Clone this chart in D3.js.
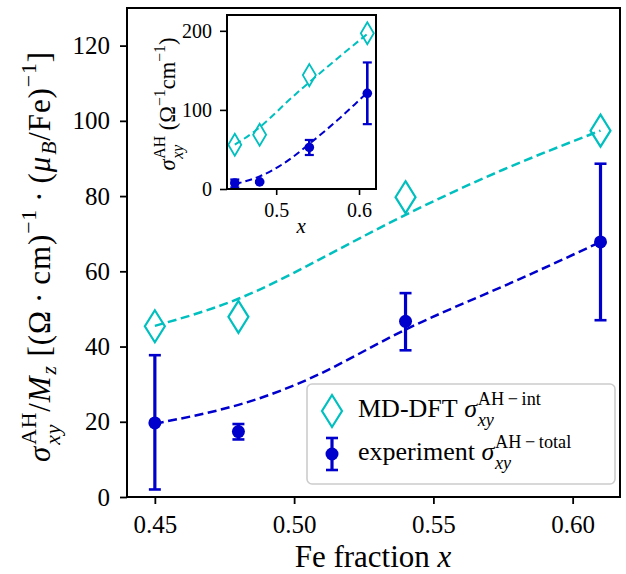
<!DOCTYPE html>
<html lang="en">
<head>
<meta charset="utf-8">
<script src="https://cdn.jsdelivr.net/npm/d3@7"></script>
<style>
  body { margin: 0; background: #fff; }
</style>
</head>
<body>
<svg width="626" height="574"></svg>
<script>
// ---- data ----
var fracX = [0.45, 0.48, 0.54, 0.61];

// main panel: sigma_xy / M_z
var dftNorm = [45.4, 47.9, 79.7, 97.4];
var expNorm = [19.7, 17.4, 46.7, 67.8];
var expNormLo = [2.0, 15.3, 39.0, 47.0];
var expNormHi = [37.7, 19.4, 54.2, 88.6];

// inset: sigma_xy (S/cm)
var dftRaw = [56, 68.5, 144, 197];
var expRaw = [7.6, 9, 52.5, 121];
var expRawLo = [2, 8, 43, 82];
var expRawHi = [12, 10, 62, 160];

// dashed fit curves
var fitX = [0.45, 0.48, 0.51, 0.54, 0.575, 0.61];
var dftFitNorm = [45.5, 52.7, 63.5, 75.0, 87.0, 97.4];
var expFitNorm = [19.5, 24.5, 33.0, 44.5, 56.0, 67.8];
var dftFitRaw = [56, 78, 107, 135, 166, 196];
var expFitRaw = [6, 16, 33, 57, 88, 122];

var mainXTicks = [0.45, 0.50, 0.55, 0.60];
var mainYTicks = [0, 20, 40, 60, 80, 100, 120];
var insetXTicks = [0.5, 0.6];
var insetYTicks = [0, 100, 200];

var cyan = "#00bfbf", blue = "#0000cd";

// pick the first serif face that is really installed
var ctx = document.createElement("canvas").getContext("2d");
function hasFont(name) {
    var probe = "mmmmllliiiWWQ0123.45";
    ctx.font = "40px monospace";
    var a = ctx.measureText(probe).width;
    ctx.font = "40px '" + name + "', monospace";
    var b = ctx.measureText(probe).width;
    ctx.font = "40px sans-serif";
    var c = ctx.measureText(probe).width;
    ctx.font = "40px '" + name + "', sans-serif";
    var d = ctx.measureText(probe).width;
    return a !== b || c !== d;
}
var serifName = ["Liberation Serif", "Tinos", "Times New Roman", "DejaVu Serif", "Noto Serif", "FreeSerif"]
    .filter(hasFont)[0];
var serif = serifName ? "'" + serifName + "', serif" : "serif";
// DejaVu Serif runs wide, shrink a bit to keep the widths
var fs = serifName === "DejaVu Serif" ? 0.84 : 1;

var svg = d3.select("svg").attr("font-family", serif);

// latex-like label in a single <text>: tspans for base runs and stacked sub/superscripts
function mathText(parent, parts, size, spacing) {
    size = size * fs;
    var text = parent.append("text").attr("font-family", serif).attr("font-size", size)
        .attr("letter-spacing", spacing || 0);
    var x = 0;
    function put(seg, px, py, f) {
        var t = text.append("tspan").attr("x", px).attr("y", py)
            .attr("font-size", f)
            .attr("font-style", seg.i ? "italic" : "normal")
            .text(seg.t.replace(/ /g, "\u00a0"));
        return t.node().getComputedTextLength();
    }
    parts.forEach(function(p) {
        if (p.t !== undefined) x += put(p, x, 0, size) + (p.i ? 0.03 * size : 0);
        var w = 0;
        if (p.sup) w = Math.max(w, put(p.sup, x, -0.45 * size, 0.7 * size));
        if (p.sub) w = Math.max(w, put(p.sub, x, (p.sup ? 0.335 : 0.2) * size, 0.7 * size));
        x += w;
    });
    return {g: text, w: x};
}

var sigmaAH = {t: "σ", i: 1, sub: {t: "xy", i: 1}, sup: {t: "AH"}};

// ---------------- main panel ----------------
var M = {l: 127, r: 620, t: 8, b: 497};
var x = d3.scaleLinear().domain([0.440, 0.617]).range([M.l, M.r]);
var y = d3.scaleLinear().domain([0, 130]).range([M.b, M.t]);

var line = d3.line().curve(d3.curveNatural);

svg.append("path")
    .attr("d", line(fitX.map(function(v, i) { return [x(v), y(dftFitNorm[i])]; })))
    .attr("fill", "none").attr("stroke", cyan).attr("stroke-width", 2.5)
    .attr("stroke-dasharray", "9,4.5");
svg.append("path")
    .attr("d", line(fitX.map(function(v, i) { return [x(v), y(expFitNorm[i])]; })))
    .attr("fill", "none").attr("stroke", blue).attr("stroke-width", 2.5)
    .attr("stroke-dasharray", "9,4.5");

function diamond(w, h) {
    return "M0," + (-h / 2) + "L" + (w / 2) + ",0L0," + (h / 2) + "L" + (-w / 2) + ",0Z";
}

function drawPoints(g, xs, ys, vals, lo, hi, dft, opt) {
    g.selectAll(".dia").data(dft).enter().append("path")
        .attr("transform", function(d, i) { return "translate(" + xs(fracX[i]) + "," + ys(d) + ")"; })
        .attr("d", diamond(opt.dw, opt.dh))
        .attr("fill", "none").attr("stroke", cyan).attr("stroke-width", opt.dsw);
    var eb = g.selectAll(".eb").data(vals).enter().append("g")
        .attr("transform", function(d, i) { return "translate(" + xs(fracX[i]) + ",0)"; });
    eb.append("line")
        .attr("y1", function(d, i) { return ys(lo[i]); })
        .attr("y2", function(d, i) { return ys(hi[i]); })
        .attr("stroke", blue).attr("stroke-width", opt.ew);
    [lo, hi].forEach(function(arr) {
        eb.append("line")
            .attr("x1", -opt.cap / 2).attr("x2", opt.cap / 2)
            .attr("y1", function(d, i) { return ys(arr[i]); })
            .attr("y2", function(d, i) { return ys(arr[i]); })
            .attr("stroke", blue).attr("stroke-width", opt.cw);
    });
    eb.append("circle")
        .attr("cy", function(d) { return ys(d); })
        .attr("r", opt.r).attr("fill", blue);
}

drawPoints(svg.append("g"), x, y, expNorm, expNormLo, expNormHi, dftNorm,
    {dw: 20, dh: 32, dsw: 2.2, ew: 3.2, cap: 12, cw: 2.6, r: 6.5});

// axes
var xAxis = svg.append("g").attr("transform", "translate(0," + M.b + ")")
    .call(d3.axisBottom(x).tickValues(mainXTicks).tickFormat(d3.format(".2f")).tickSize(7).tickPadding(11));
var yAxis = svg.append("g").attr("transform", "translate(" + M.l + ",0)")
    .call(d3.axisLeft(y).tickValues(mainYTicks).tickFormat(d3.format("d")).tickSize(7).tickPadding(10));
[xAxis, yAxis].forEach(function(a) {
    a.attr("font-family", serif);
    a.select(".domain").remove();
    a.selectAll(".tick line").attr("stroke", "#000").attr("stroke-width", 1.8);
    a.selectAll("text").attr("font-size", 25 * fs).attr("font-family", serif).attr("fill", "#000");
});
svg.append("rect").attr("x", M.l).attr("y", M.t).attr("width", M.r - M.l).attr("height", M.b - M.t)
    .attr("fill", "none").attr("stroke", "#000").attr("stroke-width", 2);

// x label
var xl = mathText(svg, [{t: "Fe fraction "}, {t: "x", i: 1}], 31);
xl.g.attr("transform", "translate(" + ((M.l + M.r) / 2 - xl.w / 2) + ",567)");

// y label
var ylHolder = svg.append("g").attr("transform", "translate(50," + ((M.t + M.b) / 2 + 4) + ") rotate(-90)");
var yl = mathText(ylHolder, [
    sigmaAH, {t: "/"}, {t: "M", i: 1, sub: {t: "z", i: 1}},
    {t: " [(Ω\u2009·\u2009cm)", sup: {t: "−1"}}, {t: "\u2009·\u2009("},
    {t: "μ", i: 1, sub: {t: "B", i: 1}}, {t: "/Fe)", sup: {t: "−1"}}, {t: "]"}
], 31, 0.9);
yl.g.attr("transform", "translate(" + (-yl.w / 2) + ",0)");

// legend
var lg = svg.append("g").attr("transform", "translate(307,384)");
lg.append("rect").attr("width", 308).attr("height", 100).attr("rx", 5)
    .attr("fill", "#fff").attr("fill-opacity", 0.8)
    .attr("stroke", "#cccccc").attr("stroke-width", 1.6);
lg.append("path").attr("transform", "translate(25,27)").attr("d", diamond(20, 32))
    .attr("fill", "none").attr("stroke", cyan).attr("stroke-width", 2.2);
var le = lg.append("g").attr("transform", "translate(25,70)");
le.append("line").attr("y1", -16).attr("y2", 16).attr("stroke", blue).attr("stroke-width", 3.2);
le.append("line").attr("x1", -6).attr("x2", 6).attr("y1", -16).attr("y2", -16).attr("stroke", blue).attr("stroke-width", 2.6);
le.append("line").attr("x1", -6).attr("x2", 6).attr("y1", 16).attr("y2", 16).attr("stroke", blue).attr("stroke-width", 2.6);
le.append("circle").attr("r", 6.5).attr("fill", blue);
var t1 = mathText(lg, [{t: "MD-DFT "}, {t: "σ", i: 1, sub: {t: "xy", i: 1}, sup: {t: "AH\u2009−\u2009int"}}], 26);
t1.g.attr("transform", "translate(51,33)");
var t2 = mathText(lg, [{t: "experiment "}, {t: "σ", i: 1, sub: {t: "xy", i: 1}, sup: {t: "AH\u2009−\u2009total"}}], 26);
t2.g.attr("transform", "translate(51,76)");

// ---------------- inset ----------------
var I = {l: 227, r: 376, t: 15, b: 189};
var xi = d3.scaleLinear().domain([0.4406, 0.6205]).range([I.l, I.r]);
var yi = d3.scaleLinear().domain([0, 220]).range([I.b, I.t]);
var ins = svg.append("g");
ins.append("rect").attr("x", I.l).attr("y", I.t).attr("width", I.r - I.l).attr("height", I.b - I.t)
    .attr("fill", "#fff");
ins.append("path")
    .attr("d", line(fitX.map(function(v, i) { return [xi(v), yi(dftFitRaw[i])]; })))
    .attr("fill", "none").attr("stroke", cyan).attr("stroke-width", 2)
    .attr("stroke-dasharray", "7,4");
ins.append("path")
    .attr("d", line(fitX.map(function(v, i) { return [xi(v), yi(expFitRaw[i])]; })))
    .attr("fill", "none").attr("stroke", blue).attr("stroke-width", 2)
    .attr("stroke-dasharray", "7,4");
drawPoints(ins.append("g"), xi, yi, expRaw, expRawLo, expRawHi, dftRaw,
    {dw: 13, dh: 22, dsw: 1.8, ew: 2.6, cap: 9, cw: 2.2, r: 4.8});

var xiAxis = ins.append("g").attr("transform", "translate(0," + I.b + ")")
    .call(d3.axisBottom(xi).tickValues(insetXTicks).tickFormat(d3.format(".1f")).tickSize(6).tickPadding(8));
var yiAxis = ins.append("g").attr("transform", "translate(" + I.l + ",0)")
    .call(d3.axisLeft(yi).tickValues(insetYTicks).tickFormat(d3.format("d")).tickSize(7).tickPadding(8));
[xiAxis, yiAxis].forEach(function(a) {
    a.attr("font-family", serif);
    a.select(".domain").remove();
    a.selectAll(".tick line").attr("stroke", "#000").attr("stroke-width", 1.6);
    a.selectAll("text").attr("font-size", 20 * fs).attr("font-family", serif).attr("fill", "#000");
});
ins.append("rect").attr("x", I.l).attr("y", I.t).attr("width", I.r - I.l).attr("height", I.b - I.t)
    .attr("fill", "none").attr("stroke", "#000").attr("stroke-width", 2);

var xil = mathText(ins, [{t: "x", i: 1}], 21);
xil.g.attr("transform", "translate(" + ((I.l + I.r) / 2 - xil.w / 2) + ",233)");

var yilHolder = ins.append("g").attr("transform", "translate(175," + ((I.t + I.b) / 2 + 2) + ") rotate(-90)");
var yil = mathText(yilHolder, [
    sigmaAH, {t: " (Ω", sup: {t: "−1"}}, {t: "cm", sup: {t: "−1"}}, {t: ")"}
], 22.5);
yil.g.attr("transform", "translate(" + (-yil.w / 2) + ",0)");
</script>
</body>
</html>
